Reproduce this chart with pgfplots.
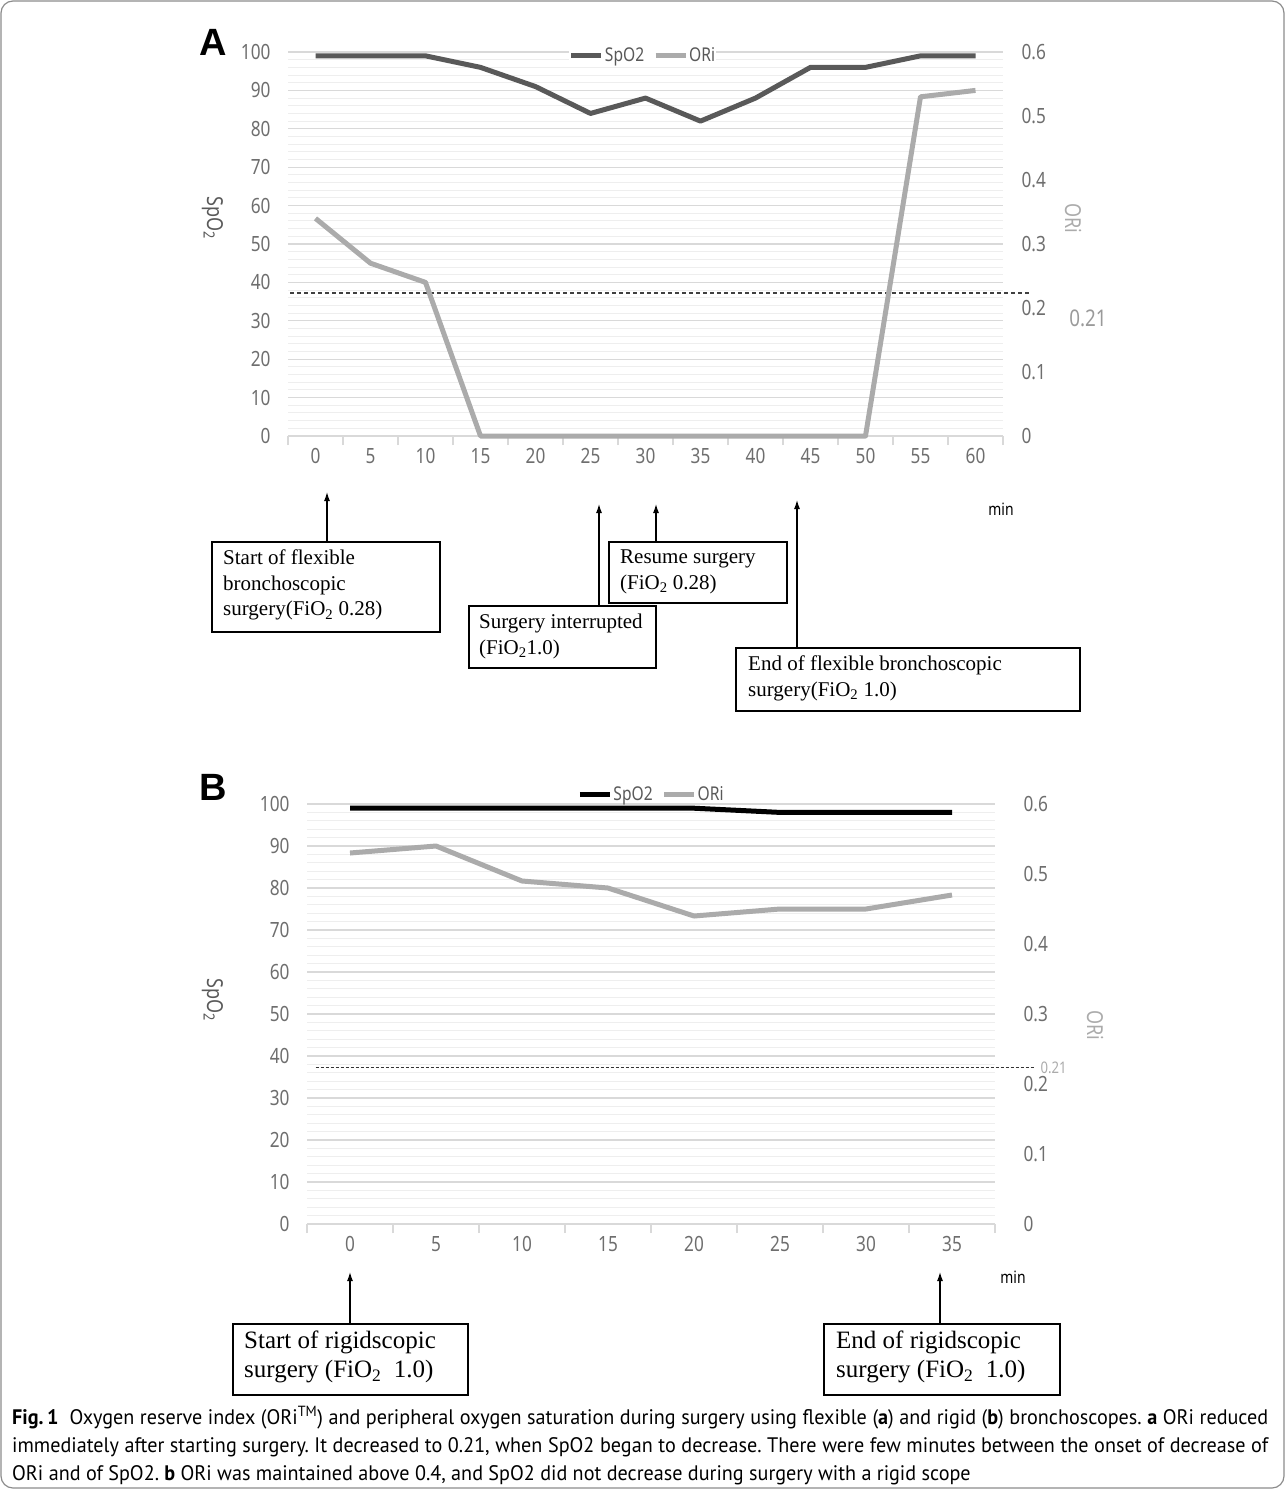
\documentclass[border=0pt]{standalone}
\usepackage{pgfplots}
\pgfplotsset{compat=1.18}
\usepackage{fontspec}
\setmainfont{Liberation Serif}
\newfontfamily\tickfont[FakeStretch=0.82]{Noto Sans}
\newfontfamily\capfont[FakeStretch=0.96]{PT Sans}
\newfontfamily\panelfont{Liberation Sans}
\usetikzlibrary{arrows.meta}
\definecolor{tickgray}{HTML}{6E6E6E}
\definecolor{darkline}{HTML}{595959}
\definecolor{lightline}{HTML}{ABABAB}
\definecolor{gridmaj}{HTML}{D9D9D9}
\definecolor{gridmin}{HTML}{EEEEEE}
\definecolor{framegray}{HTML}{8C8C8C}

\pgfplotsset{
  leftax/.style={
    anchor=south west, scale only axis,
    ymin=0, ymax=100,
    ytick={0,10,...,100}, minor y tick num=4,
    ymajorgrids, yminorgrids,
    major y grid style={draw=gridmaj, line width=1.3pt},
    minor y grid style={draw=gridmin, line width=1pt},
    axis x line*=bottom, axis y line*=left,
    y axis line style={draw=none},
    x axis line style={draw=gridmaj, line width=1.5pt},
    ytick style={draw=none},
    xtick style={draw=gridmaj, line width=1.3pt},
    major tick length=0pt, minor tick length=9pt, tick align=outside,
    /pgf/number format/assume math mode=true,
    ticklabel style={font=\tickfont\fontsize{21}{21}\selectfont, text=tickgray},
    xticklabel style={yshift=-9pt},
    yticklabel style={xshift=-14pt},
    clip=false,
    legend image code/.code={\draw[##1] (0pt,0pt) -- (30pt,0pt);},
    legend style={draw=none, fill=white, font=\tickfont\fontsize{19}{19}\selectfont, text=darkline,
      legend columns=2, /tikz/every even column/.append style={column sep=8pt},
      inner sep=0pt, nodes={inner sep=1pt}},
  },
  rightax/.style={
    anchor=south west, scale only axis,
    ymin=0, ymax=0.6,
    hide x axis, axis y line*=right,
    y axis line style={draw=none}, ytick style={draw=none},
    ytick={0,0.1,0.2,0.3,0.4,0.5,0.6},
    /pgf/number format/assume math mode=true,
    ticklabel style={font=\tickfont\fontsize{21}{21}\selectfont, text=tickgray},
    yticklabel style={xshift=15pt},
    clip=false,
  },
}

\begin{document}
\begin{tikzpicture}[x=1pt,y=1pt]
\useasboundingbox (0,0) rectangle (1285,-1489);
\draw[framegray, line width=1.2pt, rounded corners=12pt] (1,-1) rectangle (1284,-1488);

% ---------------- Panel A ----------------
\begin{axis}[leftax, at={(288pt,-436pt)}, width=715pt, height=384pt,
  xmin=-2.5, xmax=62.5, xtick={0,5,...,60}, minor xtick={-2.5,2.5,...,62.5},
  legend style={at={(0.5,1)}, anchor=center, yshift=-3pt, xshift=-3pt}]
\addplot[darkline, line width=5pt, line join=round] coordinates {
 (0,99)(5,99)(10,99)(15,96)(20,91)(25,84)(30,88)(35,82)(40,88)(45,96)(50,96)(55,99)(60,99)};
\addlegendentry{SpO2}
\addlegendimage{lightline, line width=5pt}
\addlegendentry{ORi}
\addplot[forget plot, black!75, line width=1.8pt, dash pattern=on 4pt off 3pt] coordinates {(-2.3,37.2)(64.9,37.2)};
\end{axis}
\begin{axis}[rightax, at={(288pt,-436pt)}, width=715pt, height=384pt,
  xmin=-2.5, xmax=62.5]
\addplot[lightline, line width=5pt, line join=round] coordinates {
 (0,0.34)(5,0.27)(10,0.24)(15,0)(20,0)(25,0)(30,0)(35,0)(40,0)(45,0)(50,0)(55,0.53)(60,0.54)};
\end{axis}

\node[font=\panelfont\bfseries\fontsize{38}{38}\selectfont] at (213,-42) {A};
\node[rotate=-90, font=\tickfont\fontsize{22}{22}\selectfont, text=darkline] at (213,-218) {SpO\textsubscript{2}};
\node[rotate=-90, font=\tickfont\fontsize{22}{22}\selectfont, text=lightline] at (1073,-218) {ORi};
\node[font=\tickfont\fontsize{23}{23}\selectfont, text=lightline!90!black] at (1088,-318) {0.21};
\node[font=\tickfont\fontsize{17}{17}\selectfont, text=black] at (1001,-509) {min};

\begin{scope}[line width=1.2pt, -{Latex[length=9pt,width=6pt]}]
\draw (327,-542) -- (327,-492);
\draw (599,-606) -- (599,-504);
\draw (656,-542) -- (656,-504);
\draw (797,-648) -- (797,-500);
\end{scope}
\begin{scope}[line width=1.8pt]
\draw[fill=white] (212,-542) rectangle (440,-632);
\draw[fill=white] (609,-542) rectangle (787,-603);
\draw[fill=white] (469,-606) rectangle (656,-668);
\draw[fill=white] (736,-648) rectangle (1080,-711);
\end{scope}
\begin{scope}[every node/.style={anchor=north west, align=left, inner sep=0pt,
  font=\fontsize{21}{25.5}\selectfont}]
\node at (223,-550) {Start of flexible\\bronchoscopic\\surgery(FiO\textsubscript{2} 0.28)};
\node at (620,-550) {Resume surgery\\(FiO\textsubscript{2} 0.28)};
\node at (479,-614) {Surgery interrupted\\(FiO\textsubscript{2}1.0)};
\node at (748,-656) {End of flexible bronchoscopic\\surgery(FiO\textsubscript{2} 1.0)};
\end{scope}

% ---------------- Panel B ----------------
\begin{axis}[leftax, at={(307pt,-1224pt)}, width=688pt, height=420pt,
  xmin=-2.5, xmax=37.5, xtick={0,5,...,35}, minor xtick={-2.5,2.5,...,37.5},
  legend style={at={(0.5,1)}, anchor=center, yshift=10pt}]
\addplot[black, line width=5pt, line join=round] coordinates {
 (0,99)(5,99)(10,99)(15,99)(20,99)(25,98)(30,98)(35,98)};
\addlegendentry{SpO2}
\addlegendimage{lightline, line width=5pt}
\addlegendentry{ORi}
\addplot[forget plot, black!80, line width=1.5pt, dash pattern=on 3pt off 2pt] coordinates {(-2.0,37.3)(39.8,37.3)};
\end{axis}
\begin{axis}[rightax, at={(307pt,-1224pt)}, width=688pt, height=420pt,
  xmin=-2.5, xmax=37.5, yticklabel style={xshift=10pt}]
\addplot[lightline, line width=5pt, line join=round] coordinates {
 (0,0.53)(5,0.54)(10,0.49)(15,0.48)(20,0.44)(25,0.45)(30,0.45)(35,0.47)};
\end{axis}

\node[font=\panelfont\bfseries\fontsize{38}{38}\selectfont] at (213,-787) {B};
\node[rotate=-90, font=\tickfont\fontsize{22}{22}\selectfont, text=darkline] at (213,-1000) {SpO\textsubscript{2}};
\node[rotate=-90, font=\tickfont\fontsize{22}{22}\selectfont, text=lightline] at (1095,-1025) {ORi};
\node[anchor=west, font=\tickfont\fontsize{16}{16}\selectfont, text=lightline] at (1037,-1068) {0.21};
\node[font=\tickfont\fontsize{17}{17}\selectfont, text=black] at (1013,-1277) {min};

\begin{scope}[line width=1.2pt, -{Latex[length=9pt,width=6pt]}]
\draw (350,-1324) -- (350,-1272);
\draw (940,-1324) -- (940,-1272);
\end{scope}
\begin{scope}[line width=1.8pt]
\draw (233,-1324) rectangle (468,-1395);
\draw (824,-1324) rectangle (1060,-1395);
\end{scope}
\begin{scope}[every node/.style={anchor=north west, align=left, inner sep=0pt,
  font=\fontsize{25}{29}\selectfont}]
\node at (244,-1331) {Start of rigidscopic\\surgery (FiO\textsubscript{2}\ \ 1.0)};
\node at (836,-1331) {End of rigidscopic\\surgery (FiO\textsubscript{2}\ \ 1.0)};
\end{scope}

% ---------------- Caption ----------------
\node[anchor=north west, inner sep=0pt, align=left,
  font=\capfont\fontsize{21}{28}\selectfont\frenchspacing] at (12,-1406) {%
\makebox[1256pt][s]{\textbf{Fig.\,1}\ \ Oxygen reserve index (ORi\textsuperscript{TM}) and peripheral oxygen saturation during surgery using flexible (\textbf{a}) and rigid (\textbf{b}) bronchoscopes. \textbf{a} ORi reduced}\\
\makebox[1256pt][s]{immediately after starting surgery. It decreased to 0.21, when SpO2 began to decrease. There were few minutes between the onset of decrease of}\\
ORi and of SpO2. \textbf{b} ORi was maintained above 0.4, and SpO2 did not decrease during surgery with a rigid scope};
\end{tikzpicture}
\end{document}
